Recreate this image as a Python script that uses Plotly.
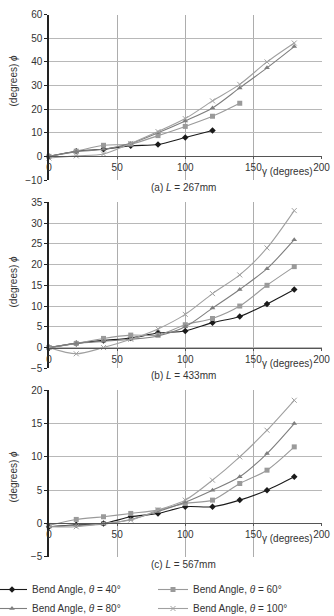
import plotly.graph_objects as go

W, H = 334, 616

gamma = [0, 20, 40, 60, 80, 100, 120, 140, 160, 180]

# Panel (a) L = 267mm
a_t40 = [0, 2.2, 3.0, 4.5, 5.0, 8.0, 11.0]
a_t60 = [0, 2.2, 4.7, 5.2, 8.8, 12.7, 17.0, 22.5]
a_t80 = [0, 2.0, 3.0, 5.5, 10.0, 15.0, 20.5, 29.0, 37.5, 46.5]
a_t100 = [-0.7, 0.2, 1.0, 5.5, 10.5, 16.0, 23.5, 30.5, 40.0, 48.0]

# Panel (b) L = 433mm
b_t40 = [0, 1.0, 1.7, 2.3, 3.5, 4.0, 6.0, 7.5, 10.5, 14.0]
b_t60 = [0, 1.0, 2.2, 3.0, 3.0, 5.5, 7.0, 10.0, 15.0, 19.5]
b_t80 = [0, 1.0, 1.5, 2.0, 2.8, 5.0, 9.5, 14.0, 19.0, 26.0]
b_t100 = [0, -1.5, 0.0, 2.0, 4.5, 8.0, 13.0, 17.5, 24.0, 33.0]

# Panel (c) L = 567mm
c_t40 = [-0.5, -0.2, 0.0, 1.0, 1.5, 2.5, 2.5, 3.5, 5.0, 7.0]
c_t60 = [-0.3, 0.6, 1.0, 1.5, 2.0, 3.0, 3.5, 6.0, 8.0, 11.5]
c_t80 = [-0.5, -0.3, -0.1, 0.6, 1.8, 3.2, 5.0, 7.0, 10.5, 15.0]
c_t100 = [-0.5, -0.5, 0.0, 0.5, 2.0, 3.5, 6.5, 10.0, 14.0, 18.5]

series_names = ["Bend Angle, <i>θ</i> = 40°", "Bend Angle, <i>θ</i> = 60°",
                "Bend Angle, <i>θ</i> = 80°", "Bend Angle, <i>θ</i> = 100°"]
captions = ["(a) <i>L</i> = 267mm", "(b) <i>L</i> = 433mm", "(c) <i>L</i> = 567mm"]
y_ranges = [(-10, 60, 10), (-5, 35, 5), (-5, 20, 5)]
panels = [[a_t40, a_t60, a_t80, a_t100],
          [b_t40, b_t60, b_t80, b_t100],
          [c_t40, c_t60, c_t80, c_t100]]

styles = [
    dict(color="#1a1a1a", symbol="diamond", size=5, lw=1.1),
    dict(color="#9a9a9a", symbol="square", size=5, lw=1.1),
    dict(color="#7e7e7e", symbol="triangle-up", size=5, lw=1.1),
    dict(color="#a0a0a0", symbol="x-thin", size=5, lw=1.1),
]

# pixel geometry of the three plot areas (top, bottom)
px_left, px_right = 49, 321.5
px_rows = [(14.7, 180.0), (202.3, 368.3), (390.3, 556.7)]

FONT = "Liberation Sans, Arial, sans-serif"
TXT = "#333333"

fig = go.Figure()
layout = dict(width=W, height=H, margin=dict(l=0, r=0, t=0, b=0, autoexpand=False),
              template="none",
              paper_bgcolor="white", plot_bgcolor="white",
              font=dict(family=FONT, size=10, color=TXT))
annotations = []

for i, (vals, (ymin, ymax, dy), cap, (pt, pb)) in enumerate(zip(panels, y_ranges, captions, px_rows)):
    n = "" if i == 0 else str(i + 1)
    xa, ya = "x" + n, "y" + n
    d0, d1 = 1 - pb / H, 1 - pt / H
    zero_pos = d0 + (0 - ymin) / (ymax - ymin) * (d1 - d0)
    for k, (ser, st) in enumerate(zip(vals, styles)):
        marker = dict(symbol=st["symbol"], size=st["size"], color=st["color"],
                      line=dict(color=st["color"], width=1 if st["symbol"] == "x-thin" else 0))
        fig.add_trace(go.Scatter(
            x=gamma[:len(ser)], y=ser, mode="lines+markers",
            line=dict(color=st["color"], width=st["lw"], shape="spline", smoothing=0.8),
            marker=marker, name=series_names[k], showlegend=(i == 0),
            xaxis=xa, yaxis=ya, cliponaxis=False))
    layout["xaxis" + n] = dict(
        domain=[px_left / W, px_right / W], range=[0, 200], dtick=50,
        anchor="free", position=zero_pos, automargin=False,
        showgrid=True, gridcolor="#adadad", gridwidth=1.2,
        showline=True, linecolor="#555555", linewidth=1,
        ticks="outside", ticklen=2, tickcolor="#555555",
        zeroline=False, tickfont=dict(size=10, color=TXT))
    layout["yaxis" + n] = dict(
        domain=[d0, d1], range=[ymin, ymax], dtick=dy, anchor=xa, automargin=False,
        showgrid=True, gridcolor="#b8b8b8", gridwidth=1.2,
        showline=True, linecolor="#222222", linewidth=1.5,
        ticks="outside", ticklen=3, tickcolor="#222222",
        zeroline=False, tickfont=dict(size=10, color=TXT))
    # captions
    annotations.append(dict(text=cap, x=183 / W, y=1 - (pb + 7.5) / H,
                            xref="paper", yref="paper", showarrow=False,
                            xanchor="center", yanchor="middle", font=dict(size=10, color=TXT)))
    # x-title
    zero_px = H * (1 - zero_pos)
    annotations.append(dict(text="γ (degrees)", x=287 / W, y=1 - (zero_px + 15.5) / H,
                            xref="paper", yref="paper", showarrow=False,
                            xanchor="center", yanchor="middle", font=dict(size=10, color=TXT)))
    # y-title
    yc = [80, 281, 476][i]
    annotations.append(dict(text="(degrees) <i>ϕ</i>", x=12.5 / W, y=1 - yc / H,
                            xref="paper", yref="paper", showarrow=False, textangle=-90,
                            xanchor="center", yanchor="middle", font=dict(size=10, color=TXT)))

layout["annotations"] = annotations
layout["legend"] = dict(orientation="h", x=0, y=1 - 575 / H, xanchor="left", yanchor="top",
                        entrywidth=124, entrywidthmode="pixels", tracegroupgap=0,
                        indentation=-8,
                        font=dict(size=10, color=TXT), bgcolor="rgba(0,0,0,0)")
fig.update_layout(**layout)
fig.write_html("out.html")
